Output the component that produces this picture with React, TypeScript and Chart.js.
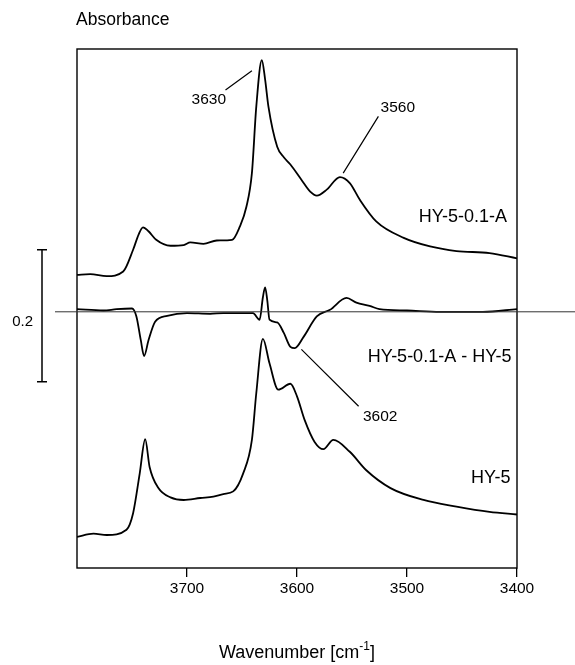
import React, { useEffect, useRef } from 'react';
import { Chart, registerables } from 'chart.js';

Chart.register(...registerables);

const FONT = '"Liberation Sans", Arial, Helvetica, sans-serif';

// Wavenumber axis (reversed) tick values
const xTicks = [3700, 3600, 3500, 3400];

// HY-5-0.1-A (top spectrum, offset as displayed)
const wnTop = [3800, 3788, 3773, 3758, 3749, 3744, 3740, 3735, 3728, 3715, 3703, 3697, 3685, 3673, 3659, 3652, 3646, 3641, 3637, 3632, 3629, 3626, 3618, 3612, 3606, 3596, 3588, 3582, 3573, 3561, 3552, 3543, 3528, 3503, 3479, 3455, 3425, 3400];
const absTop = [0.444, 0.445, 0.442, 0.449, 0.482, 0.505, 0.516, 0.510, 0.497, 0.488, 0.489, 0.493, 0.491, 0.496, 0.497, 0.517, 0.547, 0.598, 0.699, 0.769, 0.740, 0.699, 0.638, 0.622, 0.611, 0.588, 0.570, 0.564, 0.573, 0.592, 0.583, 0.558, 0.525, 0.500, 0.487, 0.480, 0.477, 0.469];

// Difference spectrum HY-5-0.1-A - HY-5 (offset as displayed)
const wnDiff = [3800, 3776, 3764, 3750, 3746, 3742, 3739, 3735, 3729, 3718, 3700, 3679, 3667, 3640, 3634, 3631, 3629, 3627, 3625, 3618, 3612, 3606, 3602, 3594, 3582, 3570, 3555, 3546, 3534, 3525, 3500, 3470, 3431, 3400];
const absDiff = [0.392, 0.390, 0.392, 0.393, 0.381, 0.345, 0.321, 0.345, 0.373, 0.382, 0.386, 0.385, 0.386, 0.386, 0.376, 0.410, 0.425, 0.405, 0.376, 0.372, 0.356, 0.335, 0.333, 0.350, 0.381, 0.391, 0.409, 0.402, 0.397, 0.392, 0.390, 0.388, 0.388, 0.392];
const DIFF_ZERO = 0.388;

// HY-5 (bottom spectrum, offset as displayed)
const wnBottom = [3800, 3785, 3773, 3755, 3749, 3743, 3738, 3734, 3726, 3715, 3703, 3688, 3676, 3667, 3658, 3649, 3641, 3637, 3631, 3625, 3617, 3606, 3600, 3593, 3584, 3576, 3567, 3552, 3537, 3515, 3485, 3455, 3425, 3400];
const absBottom = [0.047, 0.052, 0.050, 0.058, 0.083, 0.143, 0.195, 0.153, 0.121, 0.107, 0.103, 0.106, 0.108, 0.112, 0.116, 0.143, 0.194, 0.265, 0.347, 0.310, 0.270, 0.279, 0.260, 0.224, 0.191, 0.180, 0.194, 0.176, 0.148, 0.121, 0.103, 0.093, 0.085, 0.081];

const seriesNames = ['HY-5-0.1-A', 'HY-5-0.1-A - HY-5', 'HY-5'];
const SCALE_BAR = 0.2;

const toPoints = (xs: number[], ys: number[]) => xs.map((x, i) => ({ x, y: ys[i] }));

const annotationPlugin = {
  id: 'irAnnotations',
  afterDraw(chart: any) {
    const { ctx, chartArea, scales } = chart;
    const xs = scales.x;
    const ys = scales.y;
    const px = (v: number) => xs.getPixelForValue(v);
    const py = (v: number) => ys.getPixelForValue(v);
    ctx.save();

    // frame
    ctx.strokeStyle = '#000';
    ctx.lineWidth = 1.4;
    ctx.strokeRect(chartArea.left, chartArea.top, chartArea.right - chartArea.left, chartArea.bottom - chartArea.top);

    // zero line of the difference spectrum
    const yz = py(DIFF_ZERO);
    ctx.strokeStyle = '#333';
    ctx.lineWidth = 1;
    ctx.beginPath();
    ctx.moveTo(chartArea.left - 22, yz);
    ctx.lineTo(chart.width, yz);
    ctx.stroke();

    // absorbance scale bar
    const barX = chartArea.left - 35;
    const yTop = py(DIFF_ZERO + 0.094);
    const yBot = py(DIFF_ZERO + 0.094 - SCALE_BAR);
    ctx.strokeStyle = '#000';
    ctx.lineWidth = 1.5;
    ctx.beginPath();
    ctx.moveTo(barX, yTop); ctx.lineTo(barX, yBot);
    ctx.moveTo(barX - 5, yTop); ctx.lineTo(barX + 5, yTop);
    ctx.moveTo(barX - 5, yBot); ctx.lineTo(barX + 5, yBot);
    ctx.stroke();
    ctx.fillStyle = '#000';
    ctx.font = `15px ${FONT}`;
    ctx.textAlign = 'right';
    ctx.textBaseline = 'middle';
    ctx.fillText(String(SCALE_BAR), barX - 9, (yTop + yBot) / 2 + 6);

    // leader lines
    const leaders = [
      [3665, 0.724, 3641, 0.753],
      [3526, 0.684, 3558, 0.598],
      [3596, 0.331, 3544, 0.245],
    ];
    ctx.lineWidth = 1.2;
    ctx.beginPath();
    leaders.forEach(([x1, y1, x2, y2]) => {
      ctx.moveTo(px(x1), py(y1));
      ctx.lineTo(px(x2), py(y2));
    });
    ctx.stroke();

    // peak labels
    ctx.font = `15.5px ${FONT}`;
    ctx.textBaseline = 'middle';
    ctx.textAlign = 'right';
    ctx.fillText('3630', px(3664.5), py(0.709));
    ctx.textAlign = 'left';
    ctx.fillText('3560', px(3524), py(0.697));
    ctx.fillText('3602', px(3540), py(0.229));

    // series labels
    ctx.font = `18px ${FONT}`;
    ctx.textAlign = 'right';
    ctx.fillText(seriesNames[0], px(3409), py(0.532));
    ctx.fillText(seriesNames[1], px(3405), py(0.320));
    ctx.fillText(seriesNames[2], px(3406), py(0.136));

    // y label
    ctx.font = `17.5px ${FONT}`;
    ctx.textAlign = 'left';
    ctx.fillText('Absorbance', chartArea.left - 1, chartArea.top - 29);

    // x title with superscript
    const main = 'Wavenumber [cm';
    const sup = '-1';
    const end = ']';
    ctx.font = `18px ${FONT}`;
    const wMain = ctx.measureText(main).width;
    const wEnd = ctx.measureText(end).width;
    ctx.font = `12px ${FONT}`;
    const wSup = ctx.measureText(sup).width;
    const total = wMain + wSup + wEnd;
    const cx = (chartArea.left + chartArea.right) / 2;
    const ty = chartArea.bottom + 84;
    let sx = cx - total / 2;
    ctx.textAlign = 'left';
    ctx.textBaseline = 'alphabetic';
    ctx.font = `18px ${FONT}`;
    ctx.fillText(main, sx, ty + 6);
    sx += wMain;
    ctx.font = `12px ${FONT}`;
    ctx.fillText(sup, sx, ty - 2);
    sx += wSup;
    ctx.font = `18px ${FONT}`;
    ctx.fillText(end, sx, ty + 6);

    ctx.restore();
  },
};

export default function App() {
  const ref = useRef<HTMLCanvasElement | null>(null);
  useEffect(() => {
    if (!ref.current) return;
    const lineStyle = {
      borderColor: '#000',
      borderWidth: 1.8,
      pointRadius: 0,
      fill: false,
      cubicInterpolationMode: 'monotone' as const,
    };
    const chart = new Chart(ref.current, {
      type: 'line',
      data: {
        datasets: [
          { label: seriesNames[0], data: toPoints(wnTop, absTop), ...lineStyle },
          { label: seriesNames[1], data: toPoints(wnDiff, absDiff), ...lineStyle },
          { label: seriesNames[2], data: toPoints(wnBottom, absBottom), ...lineStyle },
        ],
      },
      options: {
        animation: false,
        responsive: false,
        maintainAspectRatio: false,
        layout: { padding: { left: 77, right: 58, top: 49, bottom: 57 } },
        plugins: { legend: { display: false }, tooltip: { enabled: false } },
        scales: {
          x: {
            type: 'linear',
            reverse: true,
            min: 3400,
            max: 3800,
            afterBuildTicks: (s: any) => {
              s.ticks = xTicks.map((v) => ({ value: v }));
            },
            afterFit: (s: any) => {
              s.height = 40;
            },
            ticks: {
              color: '#000',
              font: { family: FONT, size: 15.5 },
              padding: 2,
              maxRotation: 0,
              autoSkip: false,
              callback: (v: any) => String(v),
            },
            grid: { drawOnChartArea: false, drawTicks: true, tickLength: 9, color: '#000', lineWidth: 1.3 },
            border: { display: false },
          },
          y: { display: false, min: 0, max: 0.786 },
        },
      },
      plugins: [annotationPlugin],
    });
    return () => chart.destroy();
  }, []);
  return (
    <div style={{ position: 'fixed', left: 0, top: 0, width: 575, height: 665, background: '#fff' }}>
      <canvas ref={ref} width={575} height={665} style={{ display: 'block', width: 575, height: 665 }} />
    </div>
  );
}
